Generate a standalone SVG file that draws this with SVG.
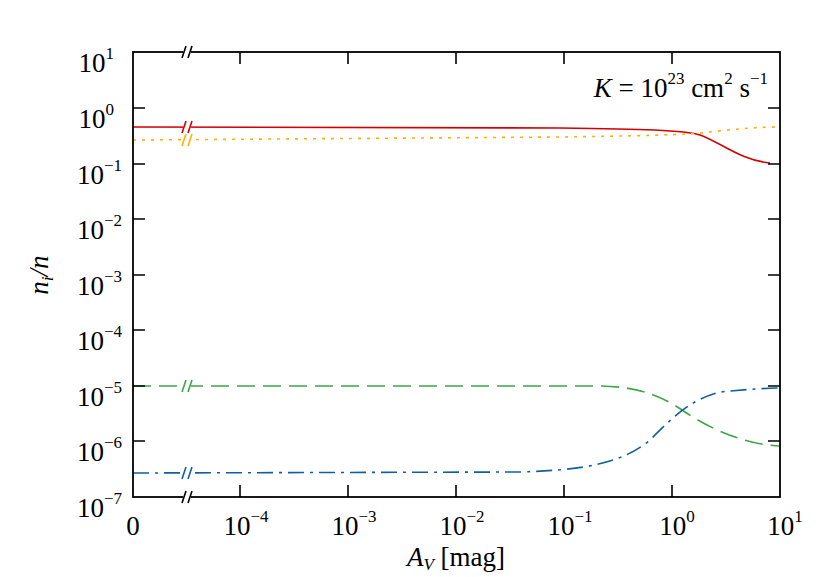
<svg xmlns="http://www.w3.org/2000/svg" width="830" height="577" viewBox="0 0 830 577">
<style>
text{font-family:"Liberation Serif",serif;font-size:27px;fill:#000}
.yl{text-anchor:end}
.xl{text-anchor:middle}
.s{font-size:17px}
.ax{fill:none;stroke:#000;stroke-width:1.8}
.c{fill:none;stroke-width:1.6}
.bk{stroke-width:1.6}
</style>
<rect width="830" height="577" fill="#fff"/>
<g id="connectors">
<path class="c" stroke="#d40000" d="M133,127 L560,128 C640,129 685,130 700,135 C720,142 740,160 770,163"/>
<path class="c" stroke="#ffb000" stroke-dasharray="3,6" d="M133,140 L560,137 C630,136 690,135 710,132 C735,129 760,127 780,127"/>
<path class="c" stroke="#3ca64a" stroke-dasharray="18,8" d="M133,386 L600,386 C640,387 660,395 685,412 C715,432 750,445 780,446"/>
<path class="c" stroke="#1060a0" stroke-dasharray="16,6,3,6" d="M133,473 L520,472 C580,470 620,465 650,440 C675,415 690,400 720,392 C750,389 770,388 780,388"/>
</g>
<g id="axes">
<rect class="ax" x="133" y="52" width="647" height="445"/>
<rect x="183" y="45" width="8" height="14" fill="#fff"/>
<rect x="183" y="490" width="8" height="14" fill="#fff"/>
<g stroke="#000" class="bk"><path d="M182,58 L186,46 M188,58 L192,46 M182,503 L186,491 M188,503 L192,491"/></g>
<rect x="183" y="120" width="8" height="14" fill="#fff"/>
<rect x="183" y="133" width="8" height="14" fill="#fff"/>
<rect x="183" y="379" width="8" height="14" fill="#fff"/>
<rect x="183" y="466" width="8" height="14" fill="#fff"/>
<path stroke="#d40000" class="bk" d="M182,133 L186,121 M188,133 L192,121"/>
<path stroke="#ffb000" class="bk" d="M182,146 L186,134 M188,146 L192,134"/>
<path stroke="#3ca64a" class="bk" d="M182,392 L186,380 M188,392 L192,380"/>
<path stroke="#1060a0" class="bk" d="M182,479 L186,467 M188,479 L192,467"/>
<g stroke="#000" stroke-width="1.6">
<path d="M240,497v-12 M348,497v-12 M456,497v-12 M564,497v-12 M672,497v-12 M240,52v12 M348,52v12 M456,52v12 M564,52v12 M672,52v12"/>
<path d="M133,108h12 M133,164h12 M133,219h12 M133,275h12 M133,330h12 M133,386h12 M133,441h12 M780,108h-12 M780,164h-12 M780,219h-12 M780,275h-12 M780,330h-12 M780,386h-12 M780,441h-12"/>
</g>
</g>
<g id="ylabels">
<text class="yl" x="114" y="72">10<tspan class="s" dy="-13">1</tspan></text>
<text class="yl" x="114" y="128">10<tspan class="s" dy="-13">0</tspan></text>
<text class="yl" x="122" y="184">10<tspan class="s" dy="-13">−1</tspan></text>
<text class="yl" x="122" y="239">10<tspan class="s" dy="-13">−2</tspan></text>
<text class="yl" x="122" y="295">10<tspan class="s" dy="-13">−3</tspan></text>
<text class="yl" x="122" y="350">10<tspan class="s" dy="-13">−4</tspan></text>
<text class="yl" x="122" y="406">10<tspan class="s" dy="-13">−5</tspan></text>
<text class="yl" x="122" y="461">10<tspan class="s" dy="-13">−6</tspan></text>
<text class="yl" x="122" y="517">10<tspan class="s" dy="-13">−7</tspan></text>
</g>
<g id="xlabels">
<text class="xl" x="133" y="535">0</text>
<text class="xl" x="246" y="535">10<tspan class="s" dy="-13">−4</tspan></text>
<text class="xl" x="354" y="535">10<tspan class="s" dy="-13">−3</tspan></text>
<text class="xl" x="462" y="535">10<tspan class="s" dy="-13">−2</tspan></text>
<text class="xl" x="570" y="535">10<tspan class="s" dy="-13">−1</tspan></text>
<text class="xl" x="677" y="535">10<tspan class="s" dy="-13">0</tspan></text>
<text class="xl" x="785" y="535">10<tspan class="s" dy="-13">1</tspan></text>
</g>
<text class="xl" x="456" y="566"><tspan font-style="italic">A</tspan><tspan class="s" font-style="italic" dy="4">V</tspan><tspan dy="-4">  [mag]</tspan></text>
<text transform="translate(48,275) rotate(-90)" class="xl"><tspan font-style="italic">n</tspan><tspan class="s" font-style="italic" dy="5">i</tspan><tspan font-style="italic" dy="-5">/n</tspan></text>
<text x="768" y="97" text-anchor="end"><tspan font-style="italic">K</tspan> = 10<tspan class="s" dy="-13">23</tspan><tspan dy="13"> cm</tspan><tspan class="s" dy="-13">2</tspan><tspan dy="13"> s</tspan><tspan class="s" dy="-13">−1</tspan></text>
</svg>
